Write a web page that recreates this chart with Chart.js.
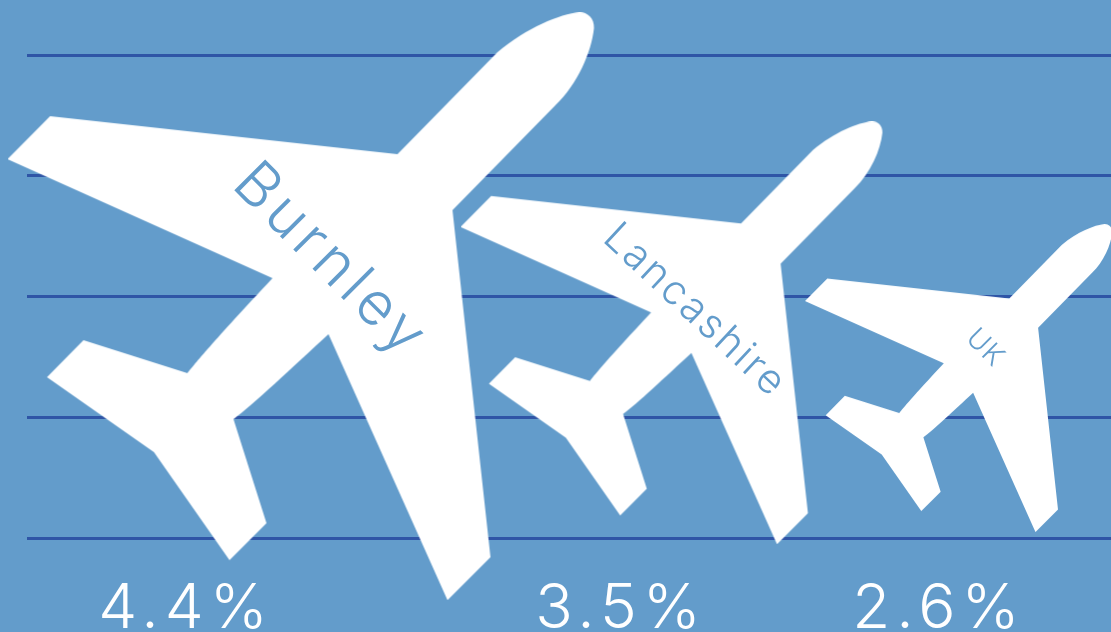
<!DOCTYPE html>
<html>
<head>
<meta charset="utf-8">
<style>
  html, body { margin: 0; padding: 0; background: #639ccb; overflow: hidden; }
  canvas { display: block; }
</style>
<script src="https://cdn.jsdelivr.net/npm/chart.js@4/dist/chart.umd.min.js"></script>
</head>
<body>
<canvas id="planes" width="1111" height="632"></canvas>
<script>
const categories = ['Burnley', 'Lancashire', 'UK'];
const values = [4.4, 3.5, 2.6];
// where each plane sits on the (unlabelled) axes
const planeX = [301.5, 672, 959];
const planeY = [1.92, 1.70, 1.325];
const labelX = [186, 621, 939];

const BG = '#639ccb';
const GRID = '#2f55a6';
const FONT = '"Inter", "Roboto", sans-serif';

// plane glyph, traced in a 588 unit box
function planeIcon(r) {
    const size = Math.ceil(r * 2);
    const c = document.createElement('canvas');
    c.width = size;
    c.height = size;
    const g = c.getContext('2d');
    g.scale(size / 588, size / 588);
    g.fillStyle = '#ffffff';
    g.beginPath();
    g.moveTo(490, 40);
    g.bezierCurveTo(520, 15, 552, 2, 572, 0);
    g.bezierCurveTo(580, 0, 587, 6, 586.5, 16);
    g.bezierCurveTo(584, 40, 570, 72, 548, 93);
    g.lineTo(445, 198);
    g.lineTo(483, 545);
    g.lineTo(440, 588);
    g.lineTo(321, 322);
    g.bezierCurveTo(285, 355, 245, 393, 226, 407);
    g.lineTo(259, 511);
    g.lineTo(222, 548);
    g.lineTo(146.5, 440);
    g.lineTo(39.5, 365);
    g.lineTo(76, 328);
    g.lineTo(180, 361);
    g.bezierCurveTo(187, 352, 205, 330, 265, 266);
    g.lineTo(0, 147);
    g.lineTo(42.6, 104);
    g.lineTo(390, 142);
    g.closePath();
    g.fill();
    return c;
}

const radii = [294, 211.5, 154];

// names written along the fuselage, in the background colour
const planeNames = {
    id: 'planeNames',
    afterDatasetsDraw(chart) {
        const ctx = chart.ctx;
        const pts = chart.getDatasetMeta(0).data;
        const styles = [
            { dx: 29, dy: -45, size: 60, angle: 45, spacing: '5px' },
            { dx: 23, dy: -22, size: 41, angle: 43, spacing: '2.5px' },
            { dx: 26, dy: -30, size: 28, angle: 45, spacing: '1px' }
        ];
        categories.forEach(function(name, i) {
            const s = styles[i];
            ctx.save();
            ctx.translate(pts[i].x + s.dx, pts[i].y + s.dy);
            ctx.rotate(s.angle * Math.PI / 180);
            ctx.font = '300 ' + s.size + 'px ' + FONT;
            ctx.letterSpacing = s.spacing;
            ctx.fillStyle = BG;
            ctx.textAlign = 'center';
            ctx.textBaseline = 'middle';
            ctx.fillText(name, 0, 0);
            ctx.restore();
        });
    }
};

const canvasBg = {
    id: 'canvasBg',
    beforeDraw(chart) {
        const ctx = chart.ctx;
        ctx.save();
        ctx.fillStyle = BG;
        ctx.fillRect(0, 0, chart.width, chart.height);
        ctx.restore();
        ctx.letterSpacing = '6px';
    }
};

new Chart(document.getElementById('planes'), {
    type: 'scatter',
    data: {
        labels: categories,
        datasets: [{
            data: planeX.map(function(x, i) { return { x: x, y: planeY[i] }; }),
            pointStyle: radii.map(planeIcon),
            pointRadius: radii,
            clip: false
        }]
    },
    plugins: [canvasBg, planeNames],
    options: {
        responsive: false,
        animation: false,
        layout: { autoPadding: false, padding: { left: 27, top: 55, right: 0, bottom: 0 } },
        plugins: {
            legend: { display: false },
            tooltip: { enabled: false }
        },
        scales: {
            x: {
                type: 'linear',
                min: 27,
                max: 1111,
                grid: { display: false },
                border: { display: false },
                afterFit(scale) { scale.height = 94; },
                afterBuildTicks(scale) {
                    scale.ticks = labelX.map(function(v) { return { value: v }; });
                },
                ticks: {
                    color: '#ffffff',
                    font: { family: FONT, size: 62, weight: 300 },
                    padding: 26,
                    maxRotation: 0,
                    autoSkip: false,
                    callback(value) {
                        return values[labelX.indexOf(value)] + '%';
                    }
                }
            },
            y: {
                min: 0,
                max: 4,
                afterFit(scale) { scale.width = 0; },
                border: { display: false },
                grid: { color: GRID, lineWidth: 3, drawTicks: false },
                ticks: { display: false, stepSize: 1 }
            }
        }
    }
});
</script>
</body>
</html>
